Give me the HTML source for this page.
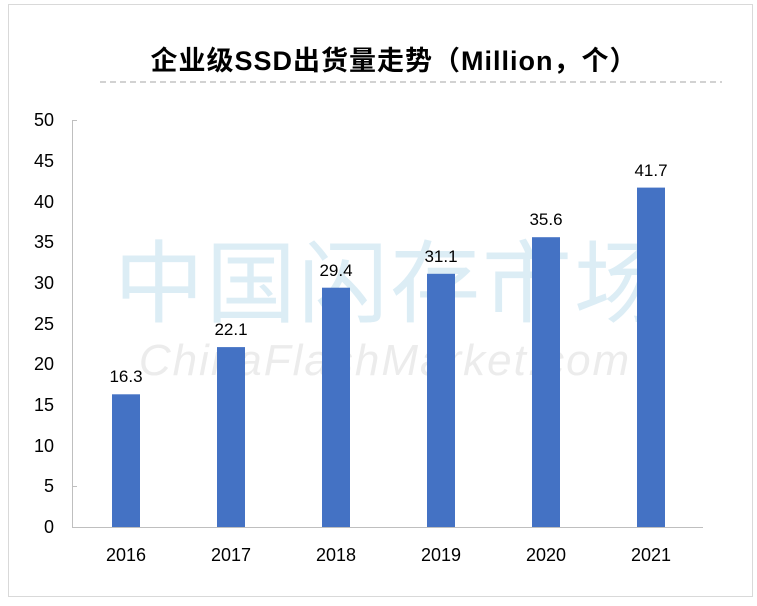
<!DOCTYPE html>
<html><head><meta charset="utf-8"><style>
body{margin:0;background:#fff;}
svg text{font-family:"Liberation Sans","Noto Sans CJK SC",sans-serif;}
</style></head><body>
<svg width="757" height="601" viewBox="0 0 757 601" xmlns="http://www.w3.org/2000/svg">
<rect x="0" y="0" width="757" height="601" fill="#fff"/>
<rect x="8.5" y="4.5" width="744" height="592" fill="none" stroke="#d9d9d9" stroke-width="1"/>
<text x="394" y="70" text-anchor="middle" font-size="27" font-weight="bold" fill="#000" letter-spacing="1">企业级SSD出货量走势（Million，个）</text>
<line x1="100" y1="82" x2="722" y2="82" stroke="#a6a6a6" stroke-dasharray="6,4" stroke-width="1"/>
<!-- watermark -->
<text x="390" y="315" text-anchor="middle" font-size="90" fill="#dcedf5" letter-spacing="2">中国闪存市场</text>
<text x="385" y="375" text-anchor="middle" font-size="44" fill="#ececec" letter-spacing="2" font-style="italic">ChinaFlashMarket.com</text>
<g stroke="#bfbfbf" stroke-width="1">
<line x1="72.5" y1="120" x2="72.5" y2="527"/>
<line x1="72" y1="527.5" x2="703" y2="527.5"/>
<line x1="72" y1="120.5" x2="77" y2="120.5"/>
<line x1="72" y1="486.5" x2="77" y2="486.5"/>
</g>
<g font-size="18" fill="#000" text-anchor="end">
<text x="54" y="533">0</text><text x="54" y="492">5</text><text x="54" y="452">10</text><text x="54" y="411">15</text><text x="54" y="370">20</text><text x="54" y="330">25</text><text x="54" y="289">30</text><text x="54" y="248">35</text><text x="54" y="208">40</text><text x="54" y="167">45</text><text x="54" y="126">50</text>
</g>
<g fill="#4472c4">
<rect x="112" y="394.3" width="28" height="132.7"/>
<rect x="217" y="347.1" width="28" height="179.9"/>
<rect x="322" y="287.7" width="28" height="239.3"/>
<rect x="427" y="273.8" width="28" height="253.2"/>
<rect x="532" y="237.2" width="28" height="289.8"/>
<rect x="637" y="187.6" width="28" height="339.4"/>
</g>
<g font-size="17" fill="#000" text-anchor="middle">
<text x="126" y="382">16.3</text><text x="231" y="335">22.1</text><text x="336" y="276">29.4</text><text x="441" y="262">31.1</text><text x="546" y="225">35.6</text><text x="651" y="176">41.7</text>
</g>
<g font-size="18" fill="#000" text-anchor="middle">
<text x="126" y="561">2016</text><text x="231" y="561">2017</text><text x="336" y="561">2018</text><text x="441" y="561">2019</text><text x="546" y="561">2020</text><text x="651" y="561">2021</text>
</g>
</svg>
</body></html>
